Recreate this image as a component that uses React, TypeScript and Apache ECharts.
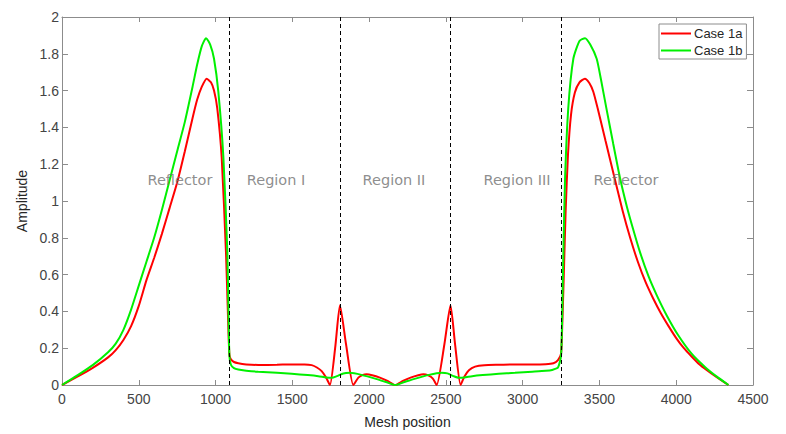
import React, { useEffect, useRef } from "react";
import * as echarts from "echarts";

const seriesNames = ["Case 1a", "Case 1b"];
const seriesColors = ["#ff0000", "#00f000"];

// Case 1a (red): mesh positions and amplitudes
const caseAX = [0, 100, 200, 300, 350, 400, 450, 500, 550, 600, 650, 700, 750, 800, 850, 880, 910, 942, 970, 990, 1011, 1040, 1068, 1080, 1090, 1100, 1120, 1148, 1200, 1278, 1400, 1496, 1580, 1626, 1660, 1691, 1720, 1745, 1780, 1810, 1850, 1897, 1930, 1960, 1984, 2020, 2070, 2120, 2170, 2220, 2270, 2320, 2353, 2385, 2415, 2440, 2490, 2530, 2560, 2596, 2620, 2650, 2690, 2750, 2850, 2950, 3050, 3150, 3200, 3230, 3250, 3258, 3268, 3280, 3295, 3315, 3340, 3370, 3405, 3435, 3460, 3488, 3540, 3600, 3650, 3700, 3750, 3800, 3850, 3900, 3950, 4000, 4050, 4100, 4150, 4200, 4250, 4300, 4340];
const caseAY = [0, 0.045, 0.093, 0.15, 0.19, 0.245, 0.32, 0.43, 0.57, 0.69, 0.82, 0.96, 1.1, 1.27, 1.45, 1.55, 1.62, 1.665, 1.645, 1.6, 1.505, 1.237, 0.718, 0.4, 0.165, 0.14, 0.125, 0.118, 0.112, 0.109, 0.11, 0.112, 0.112, 0.108, 0.095, 0.075, 0.04, 0, 0.21, 0.433, 0.22, 0, 0.04, 0.055, 0.058, 0.053, 0.04, 0.022, 0, 0.022, 0.04, 0.053, 0.058, 0.052, 0.035, 0, 0.22, 0.433, 0.22, 0, 0.045, 0.08, 0.1, 0.108, 0.11, 0.112, 0.112, 0.113, 0.118, 0.135, 0.17, 0.33, 0.6, 0.95, 1.25, 1.47, 1.59, 1.645, 1.665, 1.64, 1.594, 1.505, 1.326, 1.12, 0.95, 0.8, 0.67, 0.56, 0.47, 0.39, 0.32, 0.255, 0.2, 0.155, 0.113, 0.08, 0.05, 0.022, 0];

// Case 1b (green): mesh positions and amplitudes
const caseBX = [0, 100, 200, 300, 350, 400, 450, 500, 550, 600, 650, 700, 750, 800, 850, 880, 910, 938, 965, 990, 1018, 1051, 1077, 1084, 1090, 1100, 1120, 1148, 1200, 1278, 1400, 1496, 1600, 1669, 1720, 1756, 1790, 1832, 1875, 1950, 2050, 2110, 2170, 2230, 2290, 2390, 2472, 2510, 2550, 2584, 2620, 2671, 2740, 2844, 2950, 3062, 3150, 3192, 3230, 3250, 3258, 3265, 3276, 3297, 3330, 3370, 3406, 3440, 3482, 3510, 3545, 3590, 3634, 3680, 3720, 3764, 3820, 3872, 3940, 4013, 4100, 4187, 4260, 4340];
const caseBY = [0, 0.052, 0.108, 0.178, 0.225, 0.3, 0.41, 0.54, 0.67, 0.8, 0.95, 1.11, 1.27, 1.43, 1.62, 1.74, 1.84, 1.885, 1.85, 1.773, 1.594, 1.237, 0.718, 0.4, 0.16, 0.11, 0.092, 0.084, 0.078, 0.072, 0.066, 0.061, 0.054, 0.048, 0.041, 0.039, 0.048, 0.063, 0.066, 0.055, 0.032, 0.016, 0, 0.016, 0.032, 0.055, 0.066, 0.063, 0.048, 0.039, 0.041, 0.048, 0.054, 0.061, 0.066, 0.072, 0.077, 0.082, 0.095, 0.16, 0.4, 0.718, 1.12, 1.505, 1.773, 1.87, 1.885, 1.85, 1.773, 1.66, 1.505, 1.31, 1.125, 0.965, 0.845, 0.722, 0.59, 0.49, 0.375, 0.27, 0.17, 0.098, 0.048, 0];

// Region boundaries (dashed lines)
const boundaries = [1090, 1810, 2530, 3250];

// Region labels
const regionNames = ["Reflector", "Region I", "Region II", "Region III", "Reflector"];
const regionX = [768, 1394, 2162, 2963, 3673];
const regionY = [1.115, 1.115, 1.115, 1.115, 1.115];

const FONT = "'Liberation Sans', Arial, sans-serif";

export default function App() {
  const ref = useRef<HTMLDivElement>(null);
  useEffect(() => {
    if (!ref.current) return;
    const chart = echarts.init(ref.current, null, { renderer: "svg" });
    const axisColor = "#8c8c8c";
    const labelColor = "#444444";
    const xCommon = {
      type: "value",
      min: 0,
      max: 4500,
      interval: 500,
      axisLine: { show: true, onZero: false, lineStyle: { color: axisColor, width: 1 } },
      axisTick: { show: true, inside: true, length: 5, lineStyle: { color: axisColor } },
      splitLine: { show: false },
    };
    const yCommon = {
      type: "value",
      min: 0,
      max: 2,
      interval: 0.2,
      axisLine: { show: true, onZero: false, lineStyle: { color: axisColor, width: 1 } },
      axisTick: { show: true, inside: true, length: 6, lineStyle: { color: axisColor } },
      splitLine: { show: false },
    };
    const option = {
      animation: false,
      backgroundColor: "#ffffff",
      grid: { left: 62, right: 33, top: 17, bottom: 45, containLabel: false },
      legend: {
        data: seriesNames,
        orient: "vertical",
        left: 659,
        top: 24,
        backgroundColor: "#ffffff",
        borderColor: "#8c8c8c",
        borderWidth: 1,
        padding: [3, 4, 2, 2],
        itemGap: 4,
        itemWidth: 30,
        itemHeight: 2,
        icon: "rect",
        textStyle: {
          fontFamily: FONT,
          fontSize: 13,
          lineHeight: 13,
          color: "#262626",
          padding: [0, 0, 0, -2],
        },
      },
      xAxis: [
        {
          ...xCommon,
          position: "bottom",
          name: "Mesh position",
          nameLocation: "middle",
          nameGap: 30,
          nameTextStyle: { fontFamily: FONT, fontSize: 14, color: "#262626" },
          axisLabel: {
            fontFamily: FONT,
            fontSize: 14,
            color: labelColor,
            margin: 7,
            formatter: (v: number) => String(v),
          },
        },
        { ...xCommon, position: "top", axisLabel: { show: false } },
      ],
      yAxis: [
        {
          ...yCommon,
          position: "left",
          name: "Amplitude",
          nameLocation: "middle",
          nameGap: 27,
          nameTextStyle: { fontFamily: FONT, fontSize: 14, color: "#262626" },
          axisLabel: { fontFamily: FONT, fontSize: 14, color: labelColor, margin: 3 },
        },
        { ...yCommon, position: "right", axisLabel: { show: false } },
      ],
      series: [
        {
          name: seriesNames[0],
          type: "line",
          data: caseAX.map((x, i) => [x, caseAY[i]]),
          symbol: "none",
          smooth: 0.2,
          lineStyle: { color: seriesColors[0], width: 2 },
          itemStyle: { color: seriesColors[0] },
          z: 3,
          markLine: {
            silent: true,
            symbol: "none",
            label: { show: false },
            lineStyle: { color: "#000000", type: [4, 3], width: 1 },
            data: boundaries.map((b) => ({ xAxis: b })),
          },
        },
        {
          name: seriesNames[1],
          type: "line",
          data: caseBX.map((x, i) => [x, caseBY[i]]),
          symbol: "none",
          smooth: 0.2,
          lineStyle: { color: seriesColors[1], width: 2 },
          itemStyle: { color: seriesColors[1] },
          z: 4,
        },
        {
          name: "regions",
          type: "scatter",
          symbolSize: 0,
          data: regionX.map((x, i) => ({ value: [x, regionY[i]], name: regionNames[i] })),
          label: {
            show: true,
            position: "inside",
            formatter: (p: any) => p.name,
            fontFamily: "'DejaVu Sans', Verdana, sans-serif",
            fontSize: 14.5,
            color: "#707070",
          },
          silent: true,
          z: 5,
        },
      ],
    };
    chart.setOption(option as any);
    return () => chart.dispose();
  }, []);
  return (
    <div
      ref={ref}
      style={{ position: "fixed", left: 0, top: 0, width: 786, height: 434, background: "#fff" }}
    />
  );
}
